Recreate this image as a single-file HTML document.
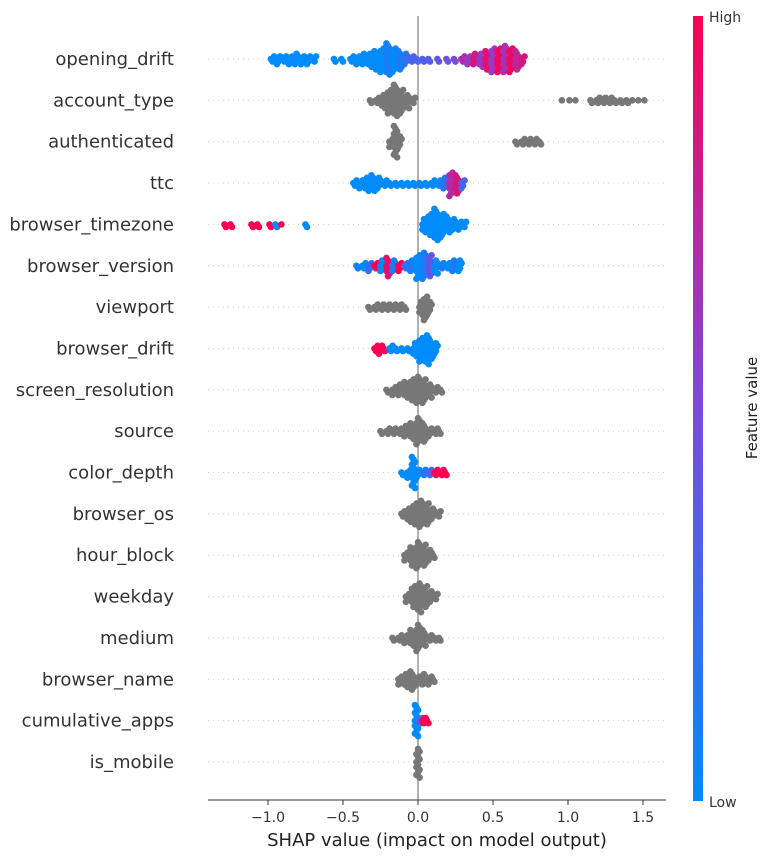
<!DOCTYPE html>
<html><head><meta charset="utf-8">
<style>
html,body{margin:0;padding:0;background:#fff;}
svg{display:block;font-family:"DejaVu Sans","Liberation Sans",sans-serif;}
</style></head>
<body>
<svg id="chart" width="771" height="860" viewBox="0 0 771 860">
  <defs>
    <linearGradient id="cbg" x1="0" y1="1" x2="0" y2="0">
      <stop offset="0" stop-color="#008bfb"/>
      <stop offset="0.5" stop-color="#7b4ae0"/>
      <stop offset="1" stop-color="#ff0052"/>
    </linearGradient>
  </defs>
  <g id="rows"></g>
  <line x1="418" y1="16" x2="418" y2="800" stroke="#999" stroke-width="1.5"/>
  <g id="dots"></g>
  <line x1="208" y1="800" x2="666" y2="800" stroke="#333" stroke-width="1"/>
  <g id="xticks"></g>
  <text x="437" y="846" text-anchor="middle" font-size="18" fill="#222">SHAP value (impact on model output)</text>
  <rect x="693" y="16" width="10" height="785" fill="url(#cbg)"/>
  <text x="709" y="22" font-size="14" fill="#333">High</text>
  <text x="709" y="807" font-size="14" fill="#333">Low</text>
  <text transform="translate(757,408) rotate(-90)" text-anchor="middle" font-size="15" fill="#222">Feature value</text>
</svg>
<script>
const features = ["opening_drift","account_type","authenticated","ttc","browser_timezone","browser_version","viewport","browser_drift","screen_resolution","source","color_depth","browser_os","hour_block","weekday","medium","browser_name","cumulative_apps","is_mobile"];
const xTicks = [-1.0,-0.5,0.0,0.5,1.0,1.5];
const xTickLabels = ["\u22121.0","\u22120.5","0.0","0.5","1.0","1.5"];
// bins: [shap value, count, feature value 0..1 (-1 = no value / gray)]
const bins_opening_drift = [[-0.97,3,0],[-0.93,4,0],[-0.89,3,0],[-0.85,4,0],[-0.81,5,0],[-0.77,4,0],[-0.73,4,0],[-0.69,3,0],[-0.55,2,0],[-0.5,2,0],[-0.44,3,0],[-0.40,4,0],[-0.36,5,0],[-0.32,6,0],[-0.28,8,0],[-0.24,10,0],[-0.20,13,0.1],[-0.16,10,0],[-0.12,8,0.1],[-0.08,5,0.2],[-0.04,3,0.3],[0.0,2,0.3],[0.04,2,0.35],[0.08,2,0.35],[0.14,2,0.4],[0.20,2,0.45],[0.25,2,0.5],[0.30,3,0.7],[0.34,4,0.6],[0.38,5,0.85],[0.42,6,0.6],[0.46,8,0.9],[0.50,10,0.6],[0.54,10,0.95],[0.58,11,0.65],[0.62,10,0.95],[0.66,8,0.75],[0.70,4,0.85]];
const bins_account_type = [[-0.31,2,-1],[-0.27,3,-1],[-0.23,6,-1],[-0.19,10,-1],[-0.15,13,-1],[-0.11,10,-1],[-0.07,6,-1],[-0.03,3,-1],[0.97,1,-1],[1.02,1,-1],[1.06,1,-1],[1.16,2,-1],[1.20,3,-1],[1.24,3,-1],[1.28,3,-1],[1.32,2,-1],[1.36,2,-1],[1.40,2,-1],[1.44,1,-1],[1.48,1,-1],[1.52,1,-1]];
const bins_authenticated = [[-0.18,4,-1],[-0.15,13,-1],[-0.12,5,-1],[0.66,2,-1],[0.70,3,-1],[0.74,3,-1],[0.78,3,-1],[0.82,2,-1]];
const bins_ttc = [[-0.42,3,0],[-0.38,4,0],[-0.34,6,0],[-0.30,7,0],[-0.26,5,0],[-0.22,3,0],[-0.18,2,0],[-0.14,2,0],[-0.10,2,0],[-0.06,2,0],[-0.02,2,0],[0.02,2,0],[0.06,2,0],[0.10,3,0],[0.14,3,0],[0.18,5,0.2],[0.22,10,0.7],[0.26,8,0.85],[0.30,4,0.3]];
const bins_browser_timezone = [[-1.28,2,1],[-1.24,2,1],[-1.1,2,1],[-1.06,2,1],[-0.98,2,1],[-0.94,2,0],[-0.90,1,1],[-0.74,2,0],[0.04,6,0],[0.08,9,0],[0.12,13,0],[0.16,10,0],[0.20,7,0],[0.24,5,0],[0.28,4,0],[0.31,3,0]];
const bins_browser_version = [[-0.40,2,0.1],[-0.36,3,0],[-0.32,4,0.2],[-0.28,3,1],[-0.24,5,0],[-0.20,8,0.9],[-0.16,5,0.1],[-0.12,4,1],[-0.08,3,0.2],[-0.04,5,0.1],[0.0,10,0],[0.04,11,0.1],[0.08,9,0.4],[0.12,6,0],[0.16,3,0.1],[0.20,3,0],[0.24,5,0.1],[0.28,5,0]];
const bins_viewport = [[-0.32,2,-1],[-0.28,3,-1],[-0.24,3,-1],[-0.20,3,-1],[-0.16,3,-1],[-0.12,3,-1],[-0.08,2,-1],[0.02,6,-1],[0.05,10,-1],[0.08,5,-1]];
const bins_browser_drift = [[-0.28,3,1],[-0.25,4,1],[-0.22,2,1],[-0.18,3,0],[-0.14,2,0],[-0.10,2,0],[-0.06,2,0],[-0.02,6,0],[0.02,10,0],[0.06,12,0],[0.09,8,0],[0.12,5,0]];
const bins_screen_resolution = [[-0.20,2,-1],[-0.16,4,-1],[-0.12,5,-1],[-0.08,7,-1],[-0.04,9,-1],[0.0,11,-1],[0.04,10,-1],[0.08,6,-1],[0.12,3,-1],[0.16,2,-1]];
const bins_source = [[-0.24,2,-1],[-0.20,3,-1],[-0.16,3,-1],[-0.12,3,-1],[-0.08,5,-1],[-0.04,7,-1],[0,11,-1],[0.04,8,-1],[0.08,4,-1],[0.12,3,-1],[0.15,2,-1]];
const bins_color_depth = [[-0.10,2,0],[-0.06,4,0],[-0.03,13,0],[0.0,4,0],[0.04,3,0.1],[0.08,3,0.3],[0.12,3,1],[0.16,3,1],[0.19,2,1]];
const bins_browser_os = [[-0.10,3,-1],[-0.06,6,-1],[-0.02,9,-1],[0.02,11,-1],[0.06,9,-1],[0.10,5,-1],[0.14,3,-1]];
const bins_hour_block = [[-0.08,4,-1],[-0.04,8,-1],[0,11,-1],[0.04,9,-1],[0.08,5,-1],[0.11,2,-1]];
const bins_weekday = [[-0.07,4,-1],[-0.03,9,-1],[0.01,12,-1],[0.05,9,-1],[0.09,5,-1],[0.12,3,-1]];
const bins_medium = [[-0.16,2,-1],[-0.12,3,-1],[-0.08,4,-1],[-0.04,7,-1],[0,11,-1],[0.04,7,-1],[0.08,3,-1],[0.12,2,-1],[0.15,2,-1]];
const bins_browser_name = [[-0.12,4,-1],[-0.08,6,-1],[-0.04,8,-1],[0,4,-1],[0.04,5,-1],[0.08,4,-1],[0.11,2,-1]];
const bins_cumulative_apps = [[-0.01,13,0],[0.02,3,0.4],[0.04,3,1],[0.07,2,1]];
const bins_is_mobile = [[0.0,12,-1]];
const allBins = [bins_opening_drift,bins_account_type,bins_authenticated,bins_ttc,bins_browser_timezone,bins_browser_version,bins_viewport,bins_browser_drift,bins_screen_resolution,bins_source,bins_color_depth,bins_browser_os,bins_hour_block,bins_weekday,bins_medium,bins_browser_name,bins_cumulative_apps,bins_is_mobile];

const NS = "http://www.w3.org/2000/svg";
function xScale(v){ return 418 + 150*v; }
function yScale(i){ return 59 + i*41.35; }
function colorOf(c){
  if (c < 0) return "#777777";
  const stops = [[0,[0,139,251]],[0.5,[123,74,224]],[1,[255,0,82]]];
  let a = stops[0], b = stops[1];
  if (c > 0.5){ a = stops[1]; b = stops[2]; }
  const t = (c - a[0]) / (b[0] - a[0]);
  const rgb = a[1].map((v,k)=>Math.round(v + (b[1][k]-v)*t));
  return "rgb(" + rgb.join(",") + ")";
}
const rowsG = document.getElementById("rows");
const dotsG = document.getElementById("dots");
features.forEach((f,i)=>{
  const y = yScale(i);
  const grid = document.createElementNS(NS,"line");
  
  
  grid.setAttribute("x1",208); grid.setAttribute("x2",666);
  grid.setAttribute("y1",y); grid.setAttribute("y2",y);
  grid.setAttribute("stroke","#ccc"); grid.setAttribute("stroke-dasharray","1,4");
  rowsG.appendChild(grid);
  const t = document.createElementNS(NS,"text");
  
  
  t.setAttribute("x",174); t.setAttribute("y",y+6);
  t.setAttribute("text-anchor","end"); t.setAttribute("font-size","18"); t.setAttribute("fill","#333");
  t.textContent = f;
  rowsG.appendChild(t);
  const g = document.createElementNS(NS,"g");
  
  
  allBins[i].forEach(b=>{
    const x = xScale(b[0]);
    for (let k=0;k<b[1];k++){
      const off = (k===0)?0:(Math.ceil(k/2)*(k%2?1:-1)*2.6);
      const jx = ((k%3)-1)*1.6;
      const c = document.createElementNS(NS,"circle");
      
      
      c.setAttribute("cx",x+jx); c.setAttribute("cy",y+off); c.setAttribute("r",3.3);
      c.setAttribute("fill",colorOf(b[2]));
      g.appendChild(c);
    }
  });
  dotsG.appendChild(g);
});
const xt = document.getElementById("xticks");
xTicks.forEach((v,i)=>{
  const x = xScale(v);
  const l = document.createElementNS(NS,"line");
  
  
  l.setAttribute("x1",x); l.setAttribute("x2",x); l.setAttribute("y1",800); l.setAttribute("y2",805);
  l.setAttribute("stroke","#333");
  xt.appendChild(l);
  const t = document.createElementNS(NS,"text");
  
  
  t.setAttribute("x",x); t.setAttribute("y",822); t.setAttribute("text-anchor","middle");
  t.setAttribute("font-size","14"); t.setAttribute("fill","#333");
  t.textContent = xTickLabels[i];
  xt.appendChild(t);
});
</script>
</body></html>
